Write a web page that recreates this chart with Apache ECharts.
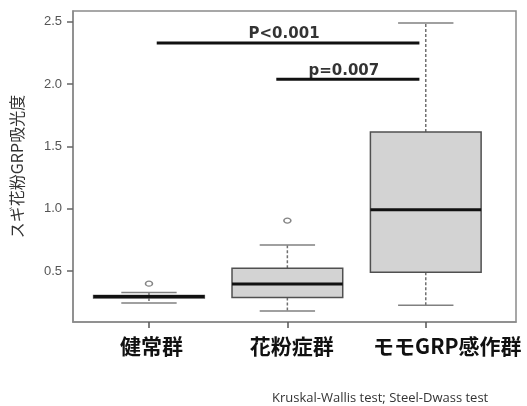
<!DOCTYPE html>
<html>
<head>
<meta charset="utf-8">
<script src="https://cdn.jsdelivr.net/npm/echarts@6/dist/echarts.min.js"></script>
<style>
  html, body { margin: 0; padding: 0; background: #fff; }
  #chart { width: 527px; height: 406px; }
</style>
</head>
<body>
<div id="chart"></div>
<script>
// Groups and five-number summaries (absorbance)
const categories = ['健常群', '花粉症群', 'モモGRP感作群'];
const lowerWhisker = [0.243, 0.179, 0.225];
const q1 = [0.283, 0.286, 0.490];
const median = [0.294, 0.396, 0.992];
const q3 = [0.302, 0.522, 1.616];
const upperWhisker = [0.326, 0.709, 2.490];
// outliers: [group position, value]
const outliers = [[1, 0.398], [2, 0.904]];
const yTicks = [0.5, 1.0, 1.5, 2.0, 2.5];
// significance brackets: [from, to, level]
const bracketFrom = [1.056, 1.92];
const bracketTo = [2.954, 2.954];
const bracketLevel = [2.33, 2.04];
const bracketText = ['P<0.001', 'p=0.007'];
const yAxisTitle = 'スギ花粉GRP吸光度';
const footnote = 'Kruskal-Wallis test; Steel-Dwass test';

const chart = echarts.init(document.getElementById('chart'), null, { renderer: 'canvas' });

const boxData = categories.map((c, i) => [i + 1, lowerWhisker[i], q1[i], median[i], q3[i], upperWhisker[i]]);

function renderBox(params, api) {
  const x = api.value(0);
  const half = api.size([0.4, 0])[0];
  const capHalf = half / 2;
  const pt = k => api.coord([x, api.value(k)]);
  const lw = pt(1), b1 = pt(2), md = pt(3), b3 = pt(4), uw = pt(5);
  const cx = lw[0];
  const whiskerStyle = { stroke: '#707070', lineWidth: 1.5, lineDash: [3, 2] };
  const capStyle = { stroke: '#808080', lineWidth: 1.5 };
  return {
    type: 'group',
    children: [
      { type: 'line', shape: { x1: cx, y1: b3[1], x2: cx, y2: uw[1] }, style: whiskerStyle },
      { type: 'line', shape: { x1: cx, y1: b1[1], x2: cx, y2: lw[1] }, style: whiskerStyle },
      { type: 'line', shape: { x1: cx - capHalf, y1: uw[1], x2: cx + capHalf, y2: uw[1] }, style: capStyle },
      { type: 'line', shape: { x1: cx - capHalf, y1: lw[1], x2: cx + capHalf, y2: lw[1] }, style: capStyle },
      { type: 'rect', shape: { x: cx - half, y: b3[1], width: half * 2, height: b1[1] - b3[1] },
        style: { fill: '#d3d3d3', stroke: '#505050', lineWidth: 1.5 } },
      { type: 'line', shape: { x1: cx - half, y1: md[1], x2: cx + half, y2: md[1] },
        style: { stroke: '#111', lineWidth: 3 } }
    ]
  };
}

const bracketSeries = bracketText.map((t, i) => ({
  type: 'line',
  data: [[bracketFrom[i], bracketLevel[i]], [bracketTo[i], bracketLevel[i]]],
  symbol: 'none',
  lineStyle: { color: '#111', width: 3 },
  silent: true,
  z: 5
}));

const bracketLabels = {
  type: 'scatter',
  symbolSize: 0,
  data: bracketText.map((t, i) => ({ value: [(bracketFrom[i] + bracketTo[i]) / 2, bracketLevel[i]], name: t })),
  label: {
    show: true,
    position: 'top',
    distance: 1,
    offset: [-4, 0],
    formatter: p => p.name,
    fontFamily: 'DejaVu Sans',
    fontWeight: 'bold',
    fontSize: 15,
    color: '#000',
    textBorderWidth: 0
  },
  silent: true,
  z: 6
};

const option = {
  backgroundColor: '#fff',
  animation: false,
  title: {
    text: footnote,
    left: 272,
    top: 392,
    padding: 0,
    textStyle: { fontFamily: 'Open Sans', fontWeight: 'normal', fontSize: 13, color: '#333' }
  },
  grid: {
    left: 73, right: 11, top: 11, bottom: 84,
    containLabel: false,
    outerBoundsMode: 'none',
    show: true, borderColor: '#8a8a8a', borderWidth: 1.5
  },
  xAxis: {
    type: 'value',
    min: 0.451, max: 3.652,
    splitLine: { show: false },
    axisLine: { show: true, lineStyle: { color: '#8a8a8a', width: 1.5 } },
    axisTick: { show: true, customValues: [1, 2, 3], length: 6, lineStyle: { color: '#555', width: 1.5 } },
    axisLabel: {
      customValues: [1, 2, 3],
      margin: 14,
      formatter: v => '{g' + (Math.round(v) - 1) + '|' + categories[Math.round(v) - 1] + '}',
      rich: {
        g0: { fontFamily: 'Noto Sans CJK JP', fontWeight: 'bold', fontSize: 21, color: '#111', padding: [0, 0, 0, 5] },
        g1: { fontFamily: 'Noto Sans CJK JP', fontWeight: 'bold', fontSize: 21, color: '#111', padding: [0, 0, 0, 9] },
        g2: { fontFamily: 'Noto Sans CJK JP', fontWeight: 'bold', fontSize: 21, color: '#111', padding: [0, 0, 0, 43] }
      }
    }
  },
  yAxis: {
    type: 'value',
    min: 0.09, max: 2.587,
    name: yAxisTitle,
    nameLocation: 'middle',
    nameGap: 48,
    nameRotate: 90,
    nameTextStyle: { fontFamily: 'Noto Sans CJK JP', fontSize: 16, color: '#333' },
    splitLine: { show: false },
    axisLine: { show: true, lineStyle: { color: '#8a8a8a', width: 1.5 } },
    axisTick: { show: true, customValues: yTicks, length: 6, lineStyle: { color: '#666', width: 1.5 } },
    axisLabel: {
      customValues: yTicks,
      margin: 11,
      formatter: v => v.toFixed(1),
      fontFamily: 'Liberation Sans',
      fontSize: 13,
      color: '#555'
    }
  },
  series: [
    {
      type: 'custom',
      renderItem: renderBox,
      data: boxData,
      encode: { x: 0, y: [1, 2, 3, 4, 5] },
      silent: true,
      z: 2
    },
    {
      type: 'scatter',
      data: outliers,
      symbol: 'circle',
      symbolSize: [7, 5],
      itemStyle: { color: '#fff', borderColor: '#666', borderWidth: 1.3 },
      silent: true,
      z: 3
    },
    ...bracketSeries,
    bracketLabels
  ]
};

chart.setOption(option);
</script>
</body>
</html>
